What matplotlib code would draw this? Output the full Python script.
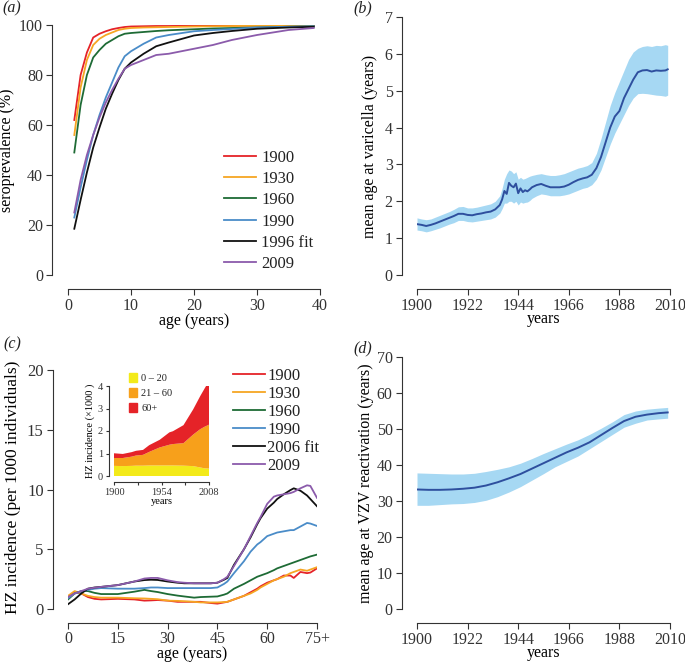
import matplotlib
matplotlib.use("Agg")
import matplotlib.pyplot as plt
from matplotlib.patches import Patch

plt.rcParams['font.family'] = ['Liberation Serif', 'DejaVu Serif']
plt.rcParams['axes.edgecolor'] = '#333333'
plt.rcParams['xtick.color'] = '#333333'
plt.rcParams['ytick.color'] = '#333333'
plt.rcParams['text.color'] = '#222222'

# ---- panel (a): seroprevalence by age ----
sero_years = ["1900", "1930", "1960", "1990", "1996 fit", "2009"]
sero_colors = ["#e52328", "#f6a623", "#1e6b35", "#4a8cc8", "#111111", "#8b5bab"]
sero_age = [1, 2, 3, 4, 5, 6, 7, 8, 9, 10, 12, 14, 16, 20, 23, 26, 30, 35, 39]
sero_1900 = [62, 80, 89, 95, 96.5, 97.5, 98.3, 98.8, 99.2, 99.4, 99.5, 99.6, 99.6, 99.7, 99.7, 99.7, 99.8, 99.8, 99.8]
sero_1930 = [56, 75, 86, 92, 94.5, 96, 97, 98, 98.5, 98.8, 99.0, 99.1, 99.2, 99.4, 99.5, 99.6, 99.7, 99.8, 99.8]
sero_1960 = [49, 68, 80, 87, 90, 92.5, 94, 95.5, 96.5, 96.8, 97.2, 97.6, 97.9, 98.3, 98.6, 98.8, 99.0, 99.3, 99.5]
sero_1990 = [23, 35, 46, 56, 64, 71, 77, 83, 87.5, 89.5, 92.5, 95, 96, 97.5, 98, 98.4, 99, 99.3, 99.5]
sero_1996 = [18.5, 30, 41, 51, 59, 66.5, 72.5, 78, 82.5, 85, 88.5, 91.5, 93, 95.8, 96.8, 97.6, 98.5, 99, 99.3]
sero_2009 = [25, 38, 48, 56, 63, 69, 74, 78.5, 82.5, 84, 86, 88, 88.5, 90.5, 92, 94, 96, 98, 98.8]

# ---- panel (b): mean age at varicella ----
b_years = [1900, 1902, 1904, 1906, 1908, 1910, 1912, 1914, 1916, 1918, 1920, 1922, 1924, 1926,
           1928, 1930, 1932, 1934, 1936, 1937, 1938, 1939, 1940, 1941, 1942, 1943, 1944, 1945,
           1946, 1947, 1948, 1949, 1950, 1952, 1954, 1956, 1958, 1960, 1962, 1964, 1966, 1968,
           1970, 1972, 1974, 1976, 1978, 1980, 1982, 1984, 1986, 1988, 1990, 1992, 1994, 1996,
           1998, 2000, 2002, 2004, 2006, 2008, 2009]
b_mean = [1.38, 1.36, 1.33, 1.36, 1.40, 1.45, 1.50, 1.55, 1.60, 1.66, 1.66, 1.63, 1.62, 1.65,
          1.67, 1.70, 1.72, 1.78, 1.90, 2.05, 2.28, 2.20, 2.50, 2.42, 2.38, 2.48, 2.22, 2.35,
          2.25, 2.30, 2.27, 2.32, 2.38, 2.44, 2.47, 2.42, 2.38, 2.38, 2.38, 2.40, 2.45, 2.52,
          2.58, 2.62, 2.65, 2.72, 2.90, 3.20, 3.60, 4.00, 4.30, 4.45, 4.80, 5.05, 5.30, 5.50,
          5.55, 5.56, 5.52, 5.55, 5.54, 5.55, 5.58]
b_upper = [1.55, 1.52, 1.50, 1.52, 1.57, 1.62, 1.67, 1.72, 1.78, 1.85, 1.86, 1.82, 1.82, 1.84,
           1.87, 1.90, 1.93, 2.00, 2.15, 2.35, 2.60, 2.75, 2.85, 2.82, 2.75, 2.80, 2.60, 2.65,
           2.60, 2.62, 2.65, 2.68, 2.70, 2.73, 2.75, 2.72, 2.70, 2.70, 2.72, 2.75, 2.80, 2.85,
           2.90, 2.93, 2.97, 3.05, 3.30, 3.70, 4.15, 4.60, 4.95, 5.25, 5.55, 5.85, 6.05, 6.15,
           6.20, 6.22, 6.20, 6.23, 6.22, 6.25, 6.23]
b_lower = [1.22, 1.20, 1.17, 1.20, 1.24, 1.28, 1.33, 1.38, 1.42, 1.48, 1.48, 1.45, 1.44, 1.46,
           1.48, 1.50, 1.52, 1.57, 1.68, 1.80, 1.95, 1.95, 2.00, 2.00, 1.95, 2.00, 1.90, 1.98,
           1.95, 1.97, 1.98, 2.02, 2.08, 2.15, 2.20, 2.18, 2.15, 2.15, 2.15, 2.17, 2.20, 2.25,
           2.30, 2.35, 2.38, 2.45, 2.60, 2.85, 3.20, 3.55, 3.85, 4.10, 4.35, 4.60, 4.80, 4.92,
           4.93, 4.92, 4.90, 4.88, 4.87, 4.85, 4.88]

# ---- panel (c): HZ incidence by age ----
hz_labels = ["1900", "1930", "1960", "1990", "2006 fit", "2009"]
hz_age = [0, 2, 4, 6, 8, 10, 15, 20, 23, 25, 27, 30, 33, 35, 38, 40, 43, 45, 47, 48, 50, 53,
          55, 57, 58, 60, 62, 63, 65, 67, 68, 70, 72, 73, 75]
hz_1900 = [1.0, 1.4, 1.3, 1.0, 0.85, 0.8, 0.85, 0.8, 0.7, 0.72, 0.75, 0.7, 0.6, 0.6, 0.6, 0.6,
           0.5, 0.45, 0.55, 0.6, 0.8, 1.1, 1.4, 1.7, 1.9, 2.2, 2.4, 2.5, 2.8, 2.8, 2.6, 3.1,
           3.0, 3.05, 3.4]
hz_1930 = [1.1, 1.5, 1.3, 1.1, 1.0, 0.95, 0.95, 0.9, 0.88, 0.85, 0.82, 0.7, 0.68, 0.65, 0.6,
           0.55, 0.55, 0.55, 0.58, 0.6, 0.8, 1.1, 1.3, 1.6, 1.8, 2.1, 2.4, 2.5, 2.7, 3.0, 3.1,
           3.3, 3.2, 3.3, 3.5]
hz_1960 = [0.8, 1.3, 1.5, 1.5, 1.35, 1.25, 1.25, 1.45, 1.6, 1.5, 1.42, 1.25, 1.12, 1.05, 0.95,
           1.0, 1.03, 1.05, 1.2, 1.3, 1.7, 2.1, 2.4, 2.7, 2.8, 3.0, 3.25, 3.4, 3.6, 3.8, 3.9,
           4.1, 4.3, 4.4, 4.55]
hz_1990 = [0.9, 1.3, 1.45, 1.6, 1.7, 1.75, 1.7, 1.7, 1.75, 1.8, 1.8, 1.75, 1.75, 1.75, 1.75,
           1.75, 1.75, 1.8, 2.1, 2.3, 3.0, 4.0, 4.8, 5.4, 5.6, 6.1, 6.3, 6.4, 6.5, 6.6, 6.6,
           6.9, 7.2, 7.15, 6.95]
hz_2006 = [0.4, 0.8, 1.3, 1.7, 1.8, 1.85, 2.0, 2.3, 2.42, 2.45, 2.43, 2.3, 2.2, 2.15, 2.15,
           2.15, 2.15, 2.2, 2.45, 2.6, 3.7, 5.0, 6.0, 7.1, 7.6, 8.4, 8.9, 9.2, 9.6, 9.95, 10.1,
           9.9, 9.5, 9.2, 8.6]
hz_2009 = [1.0, 1.3, 1.5, 1.7, 1.78, 1.85, 2.0, 2.3, 2.55, 2.6, 2.6, 2.4, 2.25, 2.2, 2.15,
           2.15, 2.15, 2.2, 2.5, 2.7, 3.6, 5.0, 6.1, 7.2, 7.7, 8.8, 9.4, 9.5, 9.6, 9.7, 9.8,
           10.1, 10.35, 10.3, 9.3]

# ---- inset: HZ incidence by age group over time ----
inset_years = [1900, 1910, 1920, 1925, 1933, 1940, 1952, 1963, 1967, 1979, 1990, 1998, 2003, 2008]
inset_0_20 = [0.45, 0.44, 0.45, 0.46, 0.46, 0.47, 0.47, 0.47, 0.47, 0.46, 0.44, 0.38, 0.34, 0.33]
inset_21_60 = [0.35, 0.36, 0.41, 0.45, 0.48, 0.6, 0.8, 0.92, 0.95, 1.0, 1.4, 1.7, 1.85, 1.95]
inset_60p = [0.21, 0.18, 0.2, 0.21, 0.22, 0.3, 0.34, 0.55, 0.57, 0.8, 1.12, 1.47, 1.7, 1.94]
inset_groups = ["0 – 20", "21 – 60", "60+"]
inset_colors = ["#f3ea1a", "#f7a01b", "#e52328"]

# ---- panel (d): mean age at VZV reactivation ----
d_years = [1900, 1905, 1910, 1915, 1920, 1925, 1930, 1935, 1940, 1945, 1950, 1955, 1960, 1965,
           1970, 1975, 1980, 1985, 1990, 1995, 2000, 2005, 2009]
d_mean = [33.2, 33.1, 33.1, 33.2, 33.4, 33.7, 34.3, 35.2, 36.3, 37.5, 39.0, 40.5, 42.0, 43.5,
          44.8, 46.3, 48.3, 50.3, 52.2, 53.4, 54.0, 54.4, 54.6]
d_upper = [37.8, 37.7, 37.6, 37.5, 37.5, 37.7, 38.2, 38.8, 39.5, 40.5, 41.8, 43.2, 44.5, 45.8,
           47.0, 48.5, 50.2, 52.0, 54.0, 55.0, 55.5, 55.8, 56.0]
d_lower = [28.8, 28.8, 29.0, 29.2, 29.3, 29.6, 30.2, 31.2, 32.5, 34.0, 35.8, 37.6, 39.5, 41.0,
           42.5, 44.5, 46.5, 48.5, 50.5, 51.6, 52.5, 52.8, 53.0]

W, H = 685, 663
fig = plt.figure(figsize=(W / 100, H / 100), dpi=100)


def px_axes(x0, x1, y_bottom, y_top):
    return fig.add_axes([x0 / W, 1 - y_bottom / H, (x1 - x0) / W, (y_bottom - y_top) / H])


def style(ax, left_off, bottom_off, size=11.5):
    for s in ["top", "right"]:
        ax.spines[s].set_visible(False)
    ax.spines["left"].set_position(("outward", left_off))
    ax.spines["bottom"].set_position(("outward", bottom_off))
    ax.tick_params(direction="out", length=4, width=0.8, labelsize=size, pad=2.5)


# (a)
ax_a = px_axes(68, 320, 275, 25)
for vals, lab, col in zip([sero_1900, sero_1930, sero_1960, sero_1990, sero_1996, sero_2009],
                          sero_years, sero_colors):
    ax_a.plot(sero_age, vals, color=col, lw=1.3, label=lab)
ax_a.set_xlim(0, 40)
ax_a.set_ylim(0, 100)
ax_a.set_xticks([0, 10, 20, 30, 40])
ax_a.set_yticks([0, 20, 40, 60, 80, 100])
style(ax_a, 11.5, 10)
ax_a.set_xlabel("age (years)", fontsize=11.5, labelpad=-1)
ax_a.set_ylabel("seroprevalence (%)", fontsize=11.5, labelpad=3)
ax_a.legend(loc="upper left", bbox_to_anchor=(0.585, 0.535), frameon=False, fontsize=12,
            handlelength=1.95, labelspacing=0.32, borderpad=0, handletextpad=0.3)
fig.text(2 / W, 1 - 12 / H, "(a)", fontsize=11.5, style="italic")

# (b)
ax_b = px_axes(417, 670, 275, 17)
ax_b.fill_between(b_years, b_lower, b_upper, color="#a6d8f3", lw=0)
ax_b.plot(b_years, b_mean, color="#2e4f9e", lw=1.4)
ax_b.set_xlim(1900, 2010)
ax_b.set_ylim(0, 7)
ax_b.set_xticks([1900, 1922, 1944, 1966, 1988, 2010])
ax_b.set_yticks(range(8))
style(ax_b, 11, 10)
ax_b.set_xlabel("years", fontsize=11.5, labelpad=-2)
ax_b.set_ylabel("mean age at varicella (years)", fontsize=11.5, labelpad=5)
fig.text(353 / W, 1 - 12 / H, "(b)", fontsize=11.5, style="italic")

# (c)
ax_c = px_axes(68, 317, 609, 370)
for vals, lab, col in zip([hz_1900, hz_1930, hz_1960, hz_1990, hz_2006, hz_2009],
                          hz_labels, sero_colors):
    ax_c.plot(hz_age, vals, color=col, lw=1.3, label=lab)
ax_c.set_xlim(0, 75)
ax_c.set_ylim(0, 20)
ax_c.set_xticks([0, 15, 30, 45, 60, 75])
ax_c.set_xticklabels(["0", "15", "30", "45", "60", "75+"])
ax_c.set_yticks([0, 5, 10, 15, 20])
style(ax_c, 11, 10, size=12)
ax_c.tick_params(axis="x", pad=1.5, labelsize=11.5)
ax_c.set_xlabel("age (years)", fontsize=11.5, labelpad=-0.5)
ax_c.set_ylabel("HZ incidence (per 1000 individuals)", fontsize=12.5, labelpad=6)
ax_c.yaxis.set_label_coords(-0.19, 0.51)
ax_c.legend(loc="upper left", bbox_to_anchor=(0.63, 1.045), frameon=False, fontsize=12,
            handlelength=1.9, labelspacing=0.12, borderpad=0, handletextpad=0.15)
fig.text(3 / W, 1 - 348 / H, "(c)", fontsize=11.5, style="italic")

# inset
ax_in = px_axes(114, 209, 476, 386)
ax_in.stackplot(inset_years, inset_0_20, inset_21_60, inset_60p, colors=inset_colors, lw=0)
ax_in.set_xlim(1900, 2008)
ax_in.set_ylim(0, 4)
ax_in.set_xticks([1900, 1927, 1954, 1981, 2008])
ax_in.set_xticklabels(["1900", "", "1954", "", "2008"])
ax_in.set_yticks([0, 1, 2, 3, 4])
style(ax_in, 3.5, 4, size=7.5)
ax_in.tick_params(length=2.5, pad=2)
ax_in.set_xlabel("years", fontsize=7.5, labelpad=0)
ax_in.set_ylabel("HZ incidence (\u00d71000 )", fontsize=7.5, labelpad=2)
ax_in.legend([Patch(color=c) for c in inset_colors], inset_groups, loc="upper left",
             bbox_to_anchor=(0.1, 1.2), frameon=False, fontsize=7.5, handlelength=0.8,
             handleheight=0.9, labelspacing=0.5, borderpad=0, handletextpad=0.4)

# (d)
ax_d = px_axes(417, 670, 609, 357)
ax_d.fill_between(d_years, d_lower, d_upper, color="#a6d8f3", lw=0)
ax_d.plot(d_years, d_mean, color="#2e4f9e", lw=1.4)
ax_d.set_xlim(1900, 2010)
ax_d.set_ylim(0, 70)
ax_d.set_xticks([1900, 1922, 1944, 1966, 1988, 2010])
ax_d.set_yticks(range(0, 71, 10))
style(ax_d, 11, 10)
ax_d.set_xlabel("years", fontsize=11.5, labelpad=-2)
ax_d.set_ylabel("mean age at VZV reactivation (years)", fontsize=11.5, labelpad=2)
fig.text(353 / W, 1 - 352 / H, "(d)", fontsize=11.5, style="italic")

fig.savefig("out.png", dpi=100)
